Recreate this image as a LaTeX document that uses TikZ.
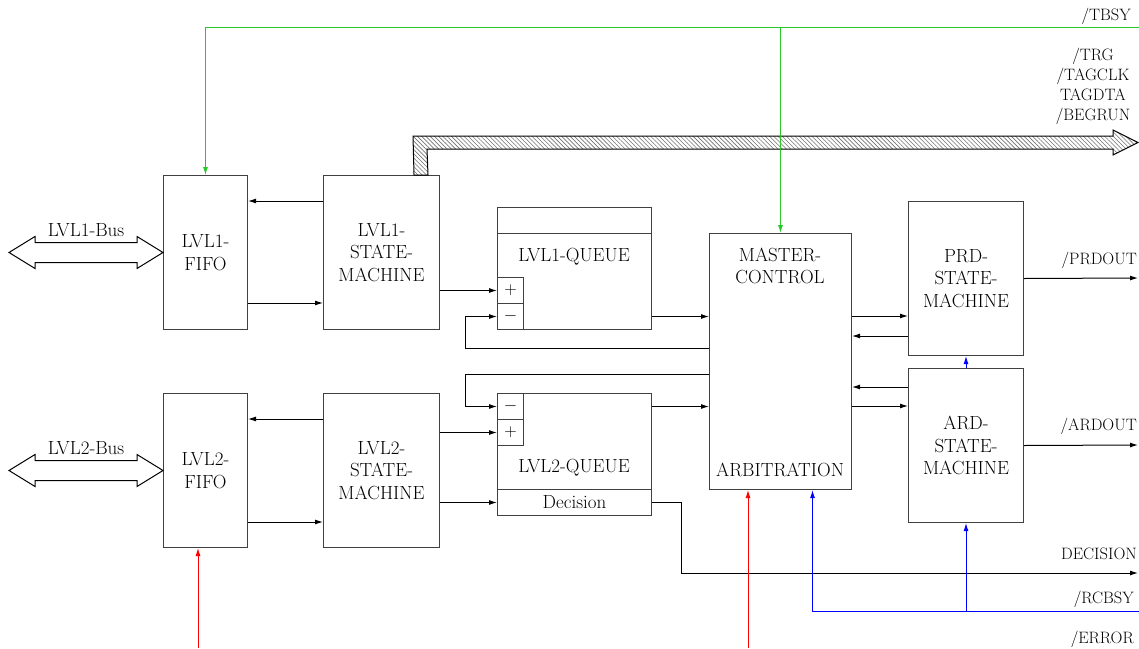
\documentclass[tikz,border=0pt]{standalone}
\usetikzlibrary{arrows.meta,patterns.meta}
\definecolor{sigGreen}{RGB}{40,200,40}

\begin{document}
\begin{tikzpicture}[
    x=1pt, y=-1pt,
    box/.style={draw=black!75, line width=1pt, anchor=north west, inner sep=0pt, align=center, font=\fontsize{19}{22.5}\selectfont},
    fifo box/.style={box, minimum width=84pt, minimum height=154pt},
    sm box/.style={box, minimum width=116pt, minimum height=154pt},
    pm box/.style={box, minimum width=26pt, minimum height=26pt},
    lbl/.style={font=\fontsize{19}{22.5}\selectfont, align=center, inner sep=0pt},
    sig/.style={font=\fontsize{16.5}{20}\selectfont, anchor=east, inner sep=0pt},
    conn/.style={line width=1pt, -{Latex[length=8pt,width=5pt]}},
    bus/.style={line width=1pt, draw=black, fill=white}
]
    \useasboundingbox (0,0) rectangle (1139,648);

    % FIFOs and state machines
    \node[fifo box] (fifo1) at (163,175) {LVL1-\\FIFO};
    \node[sm box] (sm1) at (323,175) {LVL1-\\STATE-\\MACHINE};
    \node[fifo box] (fifo2) at (163,393) {LVL2-\\FIFO};
    \node[sm box] (sm2) at (323,393) {LVL2-\\STATE-\\MACHINE};

    % LVL1 queue
    \node[box, minimum width=154pt, minimum height=26pt] (q1top) at (497,207) {};
    \node[box, minimum width=154pt, minimum height=96pt] (q1) at (497,233) {};
    \node[pm box] (q1plus) at (497,277) {$+$};
    \node[pm box] (q1minus) at (497,303) {$-$};
    \node[lbl] (q1text) at (574,257) {LVL1-QUEUE};

    % LVL2 queue
    \node[box, minimum width=154pt, minimum height=96pt] (q2) at (497,393) {};
    \node[box, minimum width=154pt, minimum height=26pt] (q2dec) at (497,489) {Decision};
    \node[pm box] (q2minus) at (497,393) {$-$};
    \node[pm box] (q2plus) at (497,419) {$+$};
    \node[lbl] (q2text) at (574,468) {LVL2-QUEUE};

    % Master control
    \node[box, minimum width=142pt, minimum height=256pt] (mc) at (709,233) {};
    \node[lbl] (mctext) at (780,266) {MASTER-\\CONTROL};
    \node[lbl] (arbtext) at (780,470) {ARBITRATION};

    % Readout state machines
    \node[box, minimum width=115pt, minimum height=154pt] (prd) at (908,201) {PRD-\\STATE-\\MACHINE};
    \node[box, minimum width=115pt, minimum height=154pt] (ard) at (908,368) {ARD-\\STATE-\\MACHINE};

    % Signal ends
    \coordinate (tbsy) at (1139,27);
    \coordinate (prdout) at (1138,278);
    \coordinate (ardout) at (1138,445);
    \coordinate (decout) at (1138,573);
    \coordinate (rcbsy) at (1139,611);
    \coordinate (errin) at (748,648);
    \coordinate (trgin) at (198,648);

    % Buses
    \draw[bus] (fifo1.west) -- ++(-26,-16) -- ++(0,6) -- ++(-102,0) -- ++(0,-6) -- ++(-26,16)
        -- ++(26,16) -- ++(0,-6) -- ++(102,0) -- ++(0,6) -- cycle;
    \draw[bus] (fifo2.west) -- ++(-26,-16) -- ++(0,6) -- ++(-102,0) -- ++(0,-6) -- ++(-26,16)
        -- ++(26,16) -- ++(0,-6) -- ++(102,0) -- ++(0,6) -- cycle;
    \node[lbl] (bus1lbl) at (86,230) {LVL1-Bus};
    \node[lbl] (bus2lbl) at (86,448) {LVL2-Bus};

    % Hatched trigger bus
    \draw[line width=1pt, pattern={Lines[angle=-45,distance=3pt,line width=0.6pt]}, pattern color=black!55]
        ([xshift=-26pt]sm1.north east) -- (413,136) -- (1113,136) -- (1113,130) -- (1138,142.5)
        -- (1113,155) -- (1113,149) -- (427,149) -- ([xshift=-12pt]sm1.north east) -- cycle;

    % Level 1 connections
    \draw[conn] (sm1.west |- 0,201) -- (fifo1.east |- 0,201);
    \draw[conn] (fifo1.east |- 0,303) -- (sm1.west |- 0,303);
    \draw[conn] (sm1.east |- q1plus.west) -- (q1plus.west);
    \draw[conn] (q1.east |- q1minus) -- (mc.west |- q1minus);
    \draw[conn] (mc.west |- 0,348) -| ([xshift=-32pt]q1minus.west) -- (q1minus.west);

    % Level 2 connections
    \draw[conn] (sm2.west |- 0,419) -- (fifo2.east |- 0,419);
    \draw[conn] (fifo2.east |- 0,522) -- (sm2.west |- 0,522);
    \draw[conn] (sm2.east |- q2plus.west) -- (q2plus.west);
    \draw[conn] (sm2.east |- q2dec.west) -- (q2dec.west);
    \draw[conn] (q2.east |- q2minus) -- (mc.west |- q2minus);
    \draw[conn] (mc.west |- 0,374) -| ([xshift=-32pt]q2minus.west) -- (q2minus.west);
    \draw[conn] (q2dec.east) -- ++(29,0) |- (decout);

    % Master control <-> readout
    \draw[conn] (mc.east |- 0,316) -- (prd.west |- 0,316);
    \draw[conn] (prd.west |- 0,336) -- (mc.east |- 0,336);
    \draw[conn] (ard.west |- 0,387) -- (mc.east |- 0,387);
    \draw[conn] (mc.east |- 0,406) -- (ard.west |- 0,406);
    \draw[conn] (prd.east) -- (prdout);
    \draw[conn] (ard.east) -- (ardout);

    % Busy / error lines
    \draw[conn, sigGreen] (tbsy) -| (fifo1.north);
    \draw[conn, sigGreen] (mc.north |- tbsy) -- (mc.north);
    \draw[conn, blue] (rcbsy) -| ([xshift=32pt]mc.south);
    \draw[conn, blue] (ard.south |- rcbsy) -- (ard.south);
    \draw[conn, blue] (ard.north) -- (prd.south);
    \draw[conn, red] (errin) -- (errin |- mc.south);
    \draw[conn, red] (trgin) -- (trgin |- fifo2.south);

    % Signal names
    \node[sig] (tbsylbl) at (1131,16) {/TBSY};
    \node[sig, anchor=center, align=center] (trglbl) at (1093,86) {/TRG\\/TAGCLK\\TAGDTA\\/BEGRUN};
    \node[sig] (prdlbl) at (1137,260) {/PRDOUT};
    \node[sig] (ardlbl) at (1137,426) {/ARDOUT};
    \node[sig] (declbl) at (1137,554) {DECISION};
    \node[sig] (rcbsylbl) at (1134,599) {/RCBSY};
    \node[sig] (errlbl) at (1134,639) {/ERROR};
\end{tikzpicture}
\end{document}
